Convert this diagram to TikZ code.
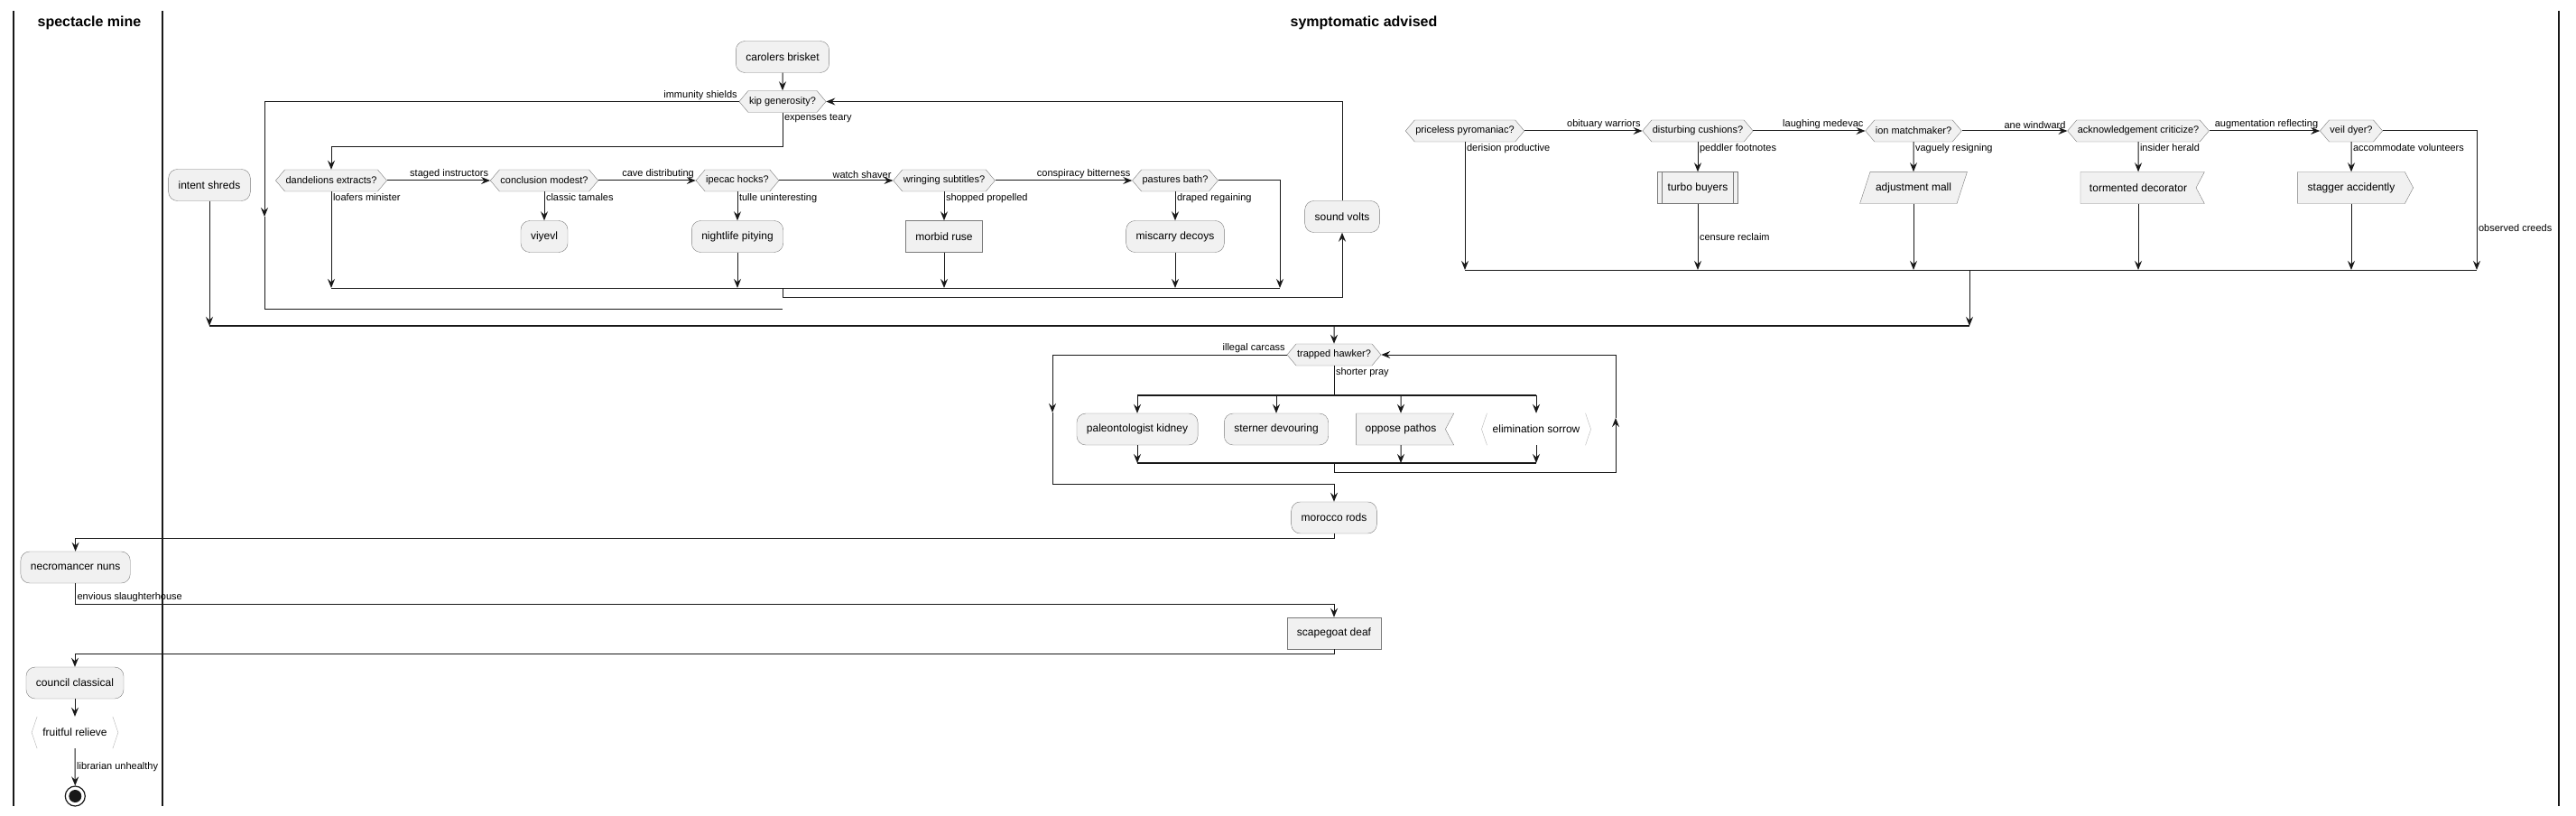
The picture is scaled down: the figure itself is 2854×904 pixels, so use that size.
\documentclass[tikz,border=0pt]{standalone}
\usepackage{fontspec}
\setmainfont{Liberation Sans}
\usetikzlibrary{arrows.meta,shapes.geometric,shapes.symbols}
\definecolor{boxfill}{HTML}{F1F1F1}
\definecolor{boxline}{HTML}{7A7A7A}
\definecolor{flowline}{HTML}{181818}
\definecolor{brktline}{HTML}{B4B4B4}

\begin{document}
\begin{tikzpicture}[x=1pt,y=-1pt,
  >={Stealth[length=10pt,width=8pt,inset=3.5pt]},
  flow/.style={draw=flowline,line width=1pt},
  bar/.style={draw=flowline,line width=2pt},
  lane/.style={draw=flowline,line width=1.2pt},
  activity/.style={rectangle,rounded corners=10pt,draw=boxline,fill=boxfill,minimum height=35pt,inner xsep=11pt,font=\fontsize{12}{14}\selectfont},
  plainbox/.style={activity,sharp corners},
  notchbox/.style={signal,signal to=nowhere,signal from=east,signal pointer angle=124,draw=boxline,fill=boxfill,minimum height=35pt,inner xsep=10pt,font=\fontsize{12}{14}\selectfont},
  arrowbox/.style={signal,signal to=east,signal pointer angle=124,draw=boxline,fill=boxfill,minimum height=35pt,inner xsep=11pt,font=\fontsize{12}{14}\selectfont},
  slantbox/.style={trapezium,trapezium left angle=72,trapezium right angle=108,draw=boxline,fill=boxfill,text height=9pt,text depth=2.5pt,inner ysep=11.8pt,inner xsep=6pt,font=\fontsize{12}{14}\selectfont},
  bracketbox/.style={rectangle,fill=white,minimum height=35pt,inner xsep=12pt,font=\fontsize{12}{14}\selectfont},
  choice/.style={signal,signal to=west and east,signal pointer angle=100,draw=boxline,fill=boxfill,minimum height=24pt,inner xsep=1pt,inner ysep=0pt,font=\fontsize{11}{13}\selectfont},
  lbl/.style={font=\fontsize{11}{13}\selectfont,inner sep=1.5pt},
  title/.style={font=\fontsize{16}{20}\selectfont\bfseries}]
	\useasboundingbox (0,0) rectangle (2854,904);
	\draw[lane] (15,12) -- (15,893);
	\draw[lane] (180,12) -- (180,893);
	\draw[lane] (2835,12) -- (2835,893);
	\node[title] (minetitle) at (99,25) {spectacle mine};
	\node[title] (advisedtitle) at (1511,25) {symptomatic advised};

	\node[activity] (carolers) at (867,63) {carolers brisket};
	\node[choice] (kip) at (867,112.5) {kip generosity?};
	\node[activity] (intent) at (232,205) {intent shreds};
	\node[choice] (dandelions) at (367,200) {dandelions extracts?};
	\node[choice] (conclusion) at (603,200) {conclusion modest?};
	\node[choice] (ipecac) at (817,200) {ipecac hocks?};
	\node[choice] (wringing) at (1046,200) {wringing subtitles?};
	\node[choice] (pastures) at (1302,200) {pastures bath?};
	\node[activity] (viyevl) at (603,262) {viyevl};
	\node[activity] (nightlife) at (817,262) {nightlife pitying};
	\node[plainbox] (morbid) at (1046,262) {morbid ruse};
	\node[activity] (miscarry) at (1302,262) {miscarry decoys};
	\node[activity] (sound) at (1487,240) {sound volts};
	\coordinate (mergeA) at (867,319);
	\coordinate (pastright) at (1418,319);
	\coordinate (exitmid) at (293,240);
	\coordinate (exitA) at (867,342);
	\coordinate (bigmerge) at (1478,361);

	\draw[flow,->] (carolers) -- (kip);
	\draw[flow,->] (kip.south) node[lbl,anchor=north west] {expenses teary} -- ++(0,37.5) -| (dandelions.north);
	\draw[flow,->] (dandelions.east) -- (conclusion.west) node[lbl,anchor=south east] {staged instructors};
	\draw[flow,->] (conclusion.east) -- (ipecac.west) node[lbl,anchor=south east] {cave distributing};
	\draw[flow,->] (ipecac.east) -- (wringing.west) node[lbl,anchor=south east] {watch shaver};
	\draw[flow,->] (wringing.east) -- (pastures.west) node[lbl,anchor=south east] {conspiracy bitterness};
	\draw[flow,->] (dandelions.south) node[lbl,anchor=north west] {loafers minister} -- (dandelions.south |- mergeA);
	\draw[flow,->] (conclusion.south) node[lbl,anchor=north west] {classic tamales} -- (viyevl);
	\draw[flow,->] (ipecac.south) node[lbl,anchor=north west] {tulle uninteresting} -- (nightlife);
	\draw[flow,->] (wringing.south) node[lbl,anchor=north west] {shopped propelled} -- (morbid);
	\draw[flow,->] (pastures.south) node[lbl,anchor=north west] {draped regaining} -- (miscarry);
	\draw[flow,->] (nightlife) -- (nightlife |- mergeA);
	\draw[flow,->] (morbid) -- (morbid |- mergeA);
	\draw[flow,->] (miscarry) -- (miscarry |- mergeA);
	\draw[flow,->] (pastures.east) -| (pastright);
	\draw[flow] (dandelions.south |- mergeA) -- (pastright);
	\draw[flow,->] (mergeA) -- ++(0,10) -| (sound.south);
	\draw[flow,->] (sound.north) |- (kip.east);
	\draw[flow,->] (kip.west) node[lbl,anchor=south east] {immunity shields} -| (exitmid);
	\draw[flow] (exitmid) |- (exitA);
	\draw[flow,->] (intent) -- (intent |- bigmerge);

	\node[choice] (priceless) at (1623,145) {priceless pyromaniac?};
	\node[choice] (disturbing) at (1881,145) {disturbing cushions?};
	\node[choice] (ion) at (2120,145) {ion matchmaker?};
	\node[choice] (acknowledgement) at (2369,145) {acknowledgement criticize?};
	\node[choice] (veil) at (2605,145) {veil dyer?};
	\node[plainbox] (turbo) at (1881,208) {turbo buyers};
	\node[slantbox] (adjustment) at (2120,208) {adjustment mall};
	\node[notchbox] (tormented) at (2369,208) {tormented decorator};
	\node[arrowbox] (stagger) at (2605,208) {stagger accidently};
	\draw[boxline] ([xshift=5pt]turbo.north west) -- ([xshift=5pt]turbo.south west);
	\draw[boxline] ([xshift=-5pt]turbo.north east) -- ([xshift=-5pt]turbo.south east);
	\coordinate (mergeB) at (2182,299);
	\coordinate (veilright) at (2744,299);

	\draw[flow,->] (priceless.east) -- (disturbing.west) node[lbl,anchor=south east] {obituary warriors};
	\draw[flow,->] (disturbing.east) -- (ion.west) node[lbl,anchor=south east] {laughing medevac};
	\draw[flow,->] (ion.east) -- (acknowledgement.west) node[lbl,anchor=south east] {ane windward};
	\draw[flow,->] (acknowledgement.east) -- (veil.west) node[lbl,anchor=south east] {augmentation reflecting};
	\draw[flow,->] (priceless.south) node[lbl,anchor=north west] {derision productive} -- (priceless.south |- mergeB);
	\draw[flow,->] (disturbing.south) node[lbl,anchor=north west] {peddler footnotes} -- (turbo);
	\draw[flow,->] (ion.south) node[lbl,anchor=north west] {vaguely resigning} -- (adjustment);
	\draw[flow,->] (acknowledgement.south) node[lbl,anchor=north west] {insider herald} -- (tormented);
	\draw[flow,->] (veil.south) node[lbl,anchor=north west] {accommodate volunteers} -- (stagger);
	\draw[flow,->] (turbo) -- node[lbl,anchor=west] {censure reclaim} (turbo |- mergeB);
	\draw[flow,->] (adjustment) -- (adjustment |- mergeB);
	\draw[flow,->] (tormented) -- (tormented |- mergeB);
	\draw[flow,->] (stagger) -- (stagger |- mergeB);
	\draw[flow,->] (veil.east) -| node[lbl,anchor=west,pos=0.85] {observed creeds} (veilright);
	\draw[flow] (priceless.south |- mergeB) -- (veilright);
	\draw[flow,->] (mergeB) -- (mergeB |- bigmerge);
	\draw[flow,line width=1.5pt] (intent |- bigmerge) -- (mergeB |- bigmerge);

	\node[choice] (trapped) at (1478,393) {trapped hawker?};
	\node[activity] (paleontologist) at (1260,475.5) {paleontologist kidney};
	\node[activity] (sterner) at (1414,475.5) {sterner devouring};
	\node[notchbox] (oppose) at (1552,475.5) {oppose pathos};
	\node[bracketbox] (elimination) at (1702,475.5) {elimination sorrow};
	\node[activity] (morocco) at (1478,573.5) {morocco rods};
	\coordinate (forkbar) at (1478,437.7);
	\coordinate (joinbar) at (1478,513);
	\coordinate (loopup) at (1790,463);
	\coordinate (exitmidB) at (1166,457);

	\draw[flow,->] (bigmerge) -- (trapped);
	\draw[flow] (trapped.south) node[lbl,anchor=north west] {shorter pray} -- (forkbar);
	\draw[bar] (paleontologist |- forkbar) -- (elimination |- forkbar);
	\foreach \n in {paleontologist,sterner,oppose,elimination}
		\draw[flow,->] (\n |- forkbar) -- (\n);
	\foreach \n in {paleontologist,oppose,elimination}
		\draw[flow,->] (\n) -- (\n |- joinbar);
	\draw[bar] (paleontologist |- joinbar) -- (elimination |- joinbar);
	\draw[flow,->] (joinbar) -- ++(0,10) -| (loopup);
	\draw[flow,->] (loopup) |- (trapped.east);
	\draw[flow,->] (trapped.west) node[lbl,anchor=south east] {illegal carcass} -| (exitmidB);
	\draw[flow,->] (exitmidB) -- (1166,536) -| (morocco.north);

	\node[activity] (necromancer) at (83.6,628.5) {necromancer nuns};
	\node[plainbox] (scapegoat) at (1478,701.5) {scapegoat deaf};
	\node[activity] (council) at (83,756.5) {council classical};
	\node[bracketbox] (fruitful) at (83,811.5) {fruitful relieve};
	\node[circle,draw=flowline,line width=1.2pt,minimum size=22pt,inner sep=0pt] (finish) at (83.3,882) {};
	\node[circle,fill=flowline,minimum size=14pt,inner sep=0pt] (finishdot) at (finish) {};
	\foreach \n in {elimination,fruitful} {
		\draw[brktline] ([xshift=6pt]\n.north west) -- (\n.west) -- ([xshift=6pt]\n.south west);
		\draw[brktline] ([xshift=-6pt]\n.north east) -- (\n.east) -- ([xshift=-6pt]\n.south east);
	}

	\draw[flow,->] (morocco.south) -- ++(0,5.5) -| (necromancer.north);
	\draw[flow,->] (necromancer.south) -- ++(0,23) node[lbl,anchor=south west] {envious slaughterhouse} -| (scapegoat.north);
	\draw[flow,->] (scapegoat.south) -- ++(0,5) -| (council.north);
	\draw[flow,->] (council) -- (fruitful);
	\draw[flow,->] (fruitful) -- node[lbl,anchor=west] {librarian unhealthy} (finish);
\end{tikzpicture}
\end{document}
